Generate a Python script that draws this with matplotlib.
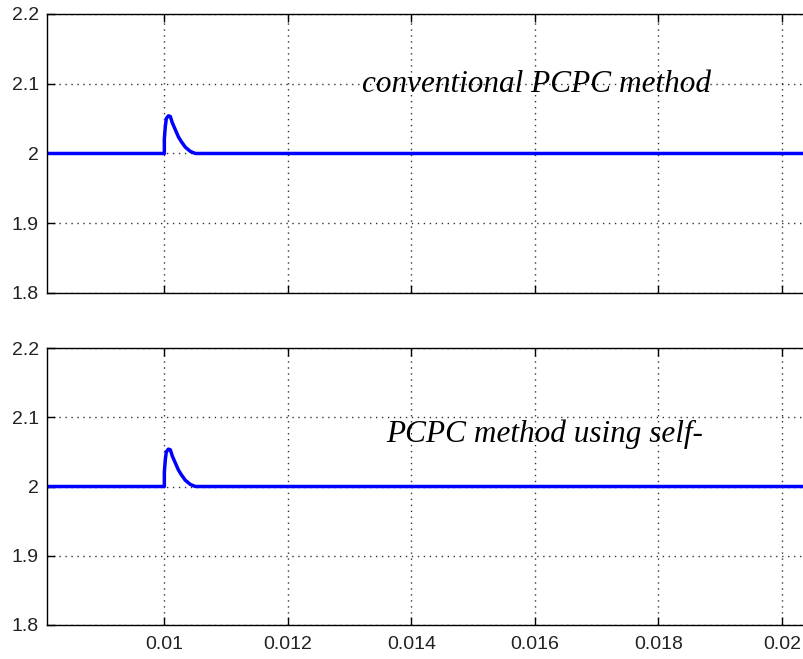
import matplotlib
matplotlib.use("Agg")
import matplotlib.pyplot as plt

# dados (tempo em s, valor em p.u.)
t = [0.0081, 0.01, 0.01, 0.010016, 0.010032, 0.010065, 0.010097, 0.010129,
     0.010178, 0.010227, 0.010275, 0.010340, 0.010421, 0.010502, 0.0206]
v_conv = [2.0, 2.0, 2.021, 2.039, 2.05, 2.054, 2.053, 2.044,
          2.034, 2.024, 2.017, 2.009, 2.003, 2.0, 2.0]
v_self = [2.0, 2.0, 2.021, 2.039, 2.05, 2.054, 2.053, 2.044,
          2.034, 2.024, 2.017, 2.009, 2.003, 2.0, 2.0]

xticks = [0.01, 0.012, 0.014, 0.016, 0.018, 0.02]
xticklabels = ["0.01", "0.012", "0.014", "0.016", "0.018", "0.02"]
yticks = [1.8, 1.9, 2.0, 2.1, 2.2]
yticklabels = ["1.8", "1.9", "2", "2.1", "2.2"]
labels = ["conventional PCPC method", "PCPC method using self-"]

fonte_eixo = ["Liberation Sans Narrow", "Liberation Sans"]

fig = plt.figure(figsize=(8.04, 6.59), dpi=100)
ax1 = fig.add_axes([0.0585, 0.5554, 0.9415, 0.4234])
ax2 = fig.add_axes([0.0585, 0.0516, 0.9415, 0.4203])

for ax, v in [(ax1, v_conv), (ax2, v_self)]:
    ax.plot(t, v, color="blue", linewidth=2.5)
    ax.set_xlim(0.0081, 0.02036)
    ax.set_ylim(1.8, 2.2)
    ax.set_xticks(xticks)
    ax.set_yticks(yticks)
    ax.set_yticklabels(yticklabels, fontfamily=fonte_eixo, fontsize=14,
                       color="#222222")
    ax.grid(True, color="#333333", linestyle=(0, (1, 3.3)), linewidth=1.0)
    ax.tick_params(direction="in", length=6, top=True, right=False, width=1.0)
    ax.tick_params(axis="x", pad=8)
    ax.tick_params(axis="y", pad=6)
    ax.spines["right"].set_visible(False)
    for s in ["left", "top", "bottom"]:
        ax.spines[s].set_linewidth(1.0)

ax1.set_xticklabels([])
ax2.set_xticklabels(xticklabels, fontfamily=fonte_eixo, fontsize=14,
                    color="#222222")

ax1.text(0.01602, 2.099, labels[0], fontfamily="Liberation Serif", style="italic",
         fontsize=22.5, ha="center", va="center")
ax2.text(0.016165, 2.075, labels[1], fontfamily="Liberation Serif", style="italic",
         fontsize=22.5, ha="center", va="center")

plt.savefig("out.png", dpi=100)
